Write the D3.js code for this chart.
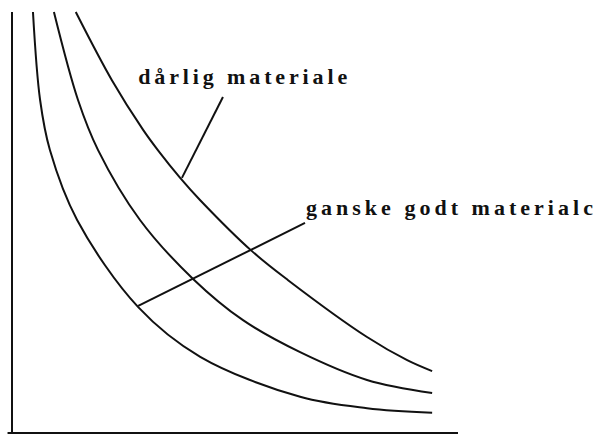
<!DOCTYPE html>
<meta charset="utf-8">
<style>
body { margin: 0; background: #fff; }
.curves path { fill: none; stroke: #111; stroke-width: 2px; }
.axis line, .leader line { stroke: #111; stroke-width: 2px; }
text {
  font-family: "Liberation Serif", "DejaVu Serif", serif;
  font-size: 22px;
  font-weight: bold;
  fill: #111;
}
</style>
<svg width="598" height="434"></svg>
<script src="https://d3js.org/d3.v7.min.js"></script>
<script>

// curves (arbitrary units, 0..100 on both axes)
var curveInner = [[4.7,100],[6.3,79.1],[8.5,67.2],[14.6,50.6],[28.3,29.9],[42.2,18.1],[64.6,8.6],[79.6,5.9],[94.2,4.8]];
var curveMiddle = [[9.4,100],[14.8,79.1],[19.3,67.2],[28.7,50.6],[40.6,36.6],[51.8,26.8],[64.6,19.2],[79.6,12.6],[94.2,9.5]];
var curveOuter = [[14.3,100],[22.4,83.8],[29.4,72],[32.7,67.2],[37.7,60.6],[42.2,55.3],[53.8,43.2],[61.9,36.3],[79.6,22.8],[88.6,17.3],[94.2,14.7]];

var labels = ["dårlig materiale", "ganske godt materialc"];
var labelAt = [[28.3,82.9],[65.9,51.8]];
var labelWidth = [209, 287];
var leaders = [[[38.1,60.6],[47.3,79.8]], [[28.3,30.2],[65.7,49.9]]];

var svg = d3.select("svg");

var x = d3.scaleLinear().domain([0, 100]).range([12, 458]);
var y = d3.scaleLinear().domain([0, 100]).range([433, 12]);

// axes, no ticks
svg.append("g").attr("class", "axis")
  .selectAll("line")
  .data([[[0,0],[0,100]], [[-1,0],[100,0]]])
  .enter().append("line")
    .attr("x1", function(d) { return x(d[0][0]); })
    .attr("y1", function(d) { return y(d[0][1]); })
    .attr("x2", function(d) { return x(d[1][0]); })
    .attr("y2", function(d) { return y(d[1][1]); });

var line = d3.line()
    .x(function(d) { return x(d[0]); })
    .y(function(d) { return y(d[1]); })
    .curve(d3.curveCatmullRom);

svg.append("g").attr("class", "curves")
  .selectAll("path")
  .data([curveInner, curveMiddle, curveOuter])
  .enter().append("path")
    .attr("d", line);

svg.append("g").attr("class", "leader")
  .selectAll("line")
  .data(leaders)
  .enter().append("line")
    .attr("x1", function(d) { return x(d[0][0]); })
    .attr("y1", function(d) { return y(d[0][1]); })
    .attr("x2", function(d) { return x(d[1][0]); })
    .attr("y2", function(d) { return y(d[1][1]); });

svg.append("g")
  .selectAll("text")
  .data(labels)
  .enter().append("text")
    .attr("x", function(d, i) { return x(labelAt[i][0]); })
    .attr("y", function(d, i) { return y(labelAt[i][1]); })
    .attr("textLength", function(d, i) { return labelWidth[i]; })
    .attr("lengthAdjust", "spacing")
    .text(function(d) { return d; });

</script>
